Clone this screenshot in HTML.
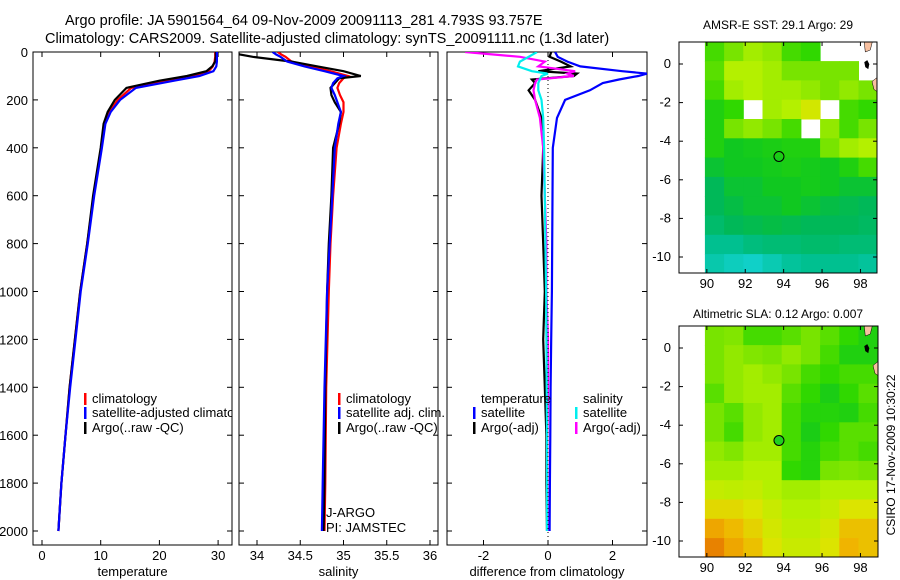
<!DOCTYPE html>
<html><head><meta charset="utf-8"><style>
html,body{margin:0;padding:0;background:#fff;}
svg{display:block;font-family:"Liberation Sans",sans-serif;}
text{font-size:13px;fill:#000;}
.ttl{font-size:14.5px;}
</style></head><body>
<svg id="fig" width="900" height="580" viewBox="0 0 900 580">
<defs>
<clipPath id="c1"><rect x="33" y="52" width="199" height="493"/></clipPath>
<clipPath id="c2"><rect x="239" y="52" width="199" height="493"/></clipPath>
<clipPath id="c3"><rect x="447" y="52" width="200" height="493"/></clipPath>
<clipPath id="cm1"><rect x="679" y="42" width="198" height="231"/></clipPath>
<clipPath id="cm2"><rect x="679" y="326" width="199" height="231"/></clipPath>
</defs>
<text class="ttl" x="65" y="25">Argo profile: JA 5901564_64 09-Nov-2009 20091113_281 4.793S 93.757E</text>
<text class="ttl" x="45" y="43">Climatology: CARS2009. Satellite-adjusted climatology: synTS_20091111.nc (1.3d later)</text>
<text x="778" y="29" text-anchor="middle" style="font-size:12px">AMSR-E SST: 29.1 Argo: 29</text>
<text x="778" y="318" text-anchor="middle" style="font-size:12px">Altimetric SLA: 0.12 Argo: 0.007</text>
<text transform="translate(895,455) rotate(-90)" text-anchor="middle" style="font-size:12px">CSIRO 17-Nov-2009 10:30:22</text>
<g id="g1"></g>
<g id="g2"></g>
<g id="g3"></g>
<g id="m1"></g>
<g id="m2"></g>
</svg>
<script>
const NS="http://www.w3.org/2000/svg";
// ---- profile data ----
const tDepth=[0,20,40,60,80,100,120,150,200,250,300,400,600,800,1000,1200,1400,1600,1800,2000];
const tempArgo=[29.6,29.6,29.5,29,28,24.7,20,14.4,12.4,11.2,10.5,10.0,8.7,7.7,6.5,5.6,4.7,4.0,3.3,2.8];
const tempClim=[29.5,29.5,29.4,29.1,28.4,25.5,21,15.2,12.9,11.5,10.7,10.1,8.8,7.7,6.5,5.6,4.7,4.0,3.3,2.8];
const tempSat=[29.8,29.8,29.8,29.7,29.2,26.8,22.5,16.0,13.3,11.7,10.8,10.2,8.9,7.8,6.6,5.7,4.8,4.0,3.3,2.8];
const sDepth=[0,10,20,40,60,80,100,110,130,150,180,210,250,300,400,600,800,1000,1400,1800,2000];
const salArgo=[33.75,33.8,33.95,34.4,34.7,35.0,35.2,34.95,34.9,34.85,34.86,34.9,34.97,34.95,34.88,34.86,34.83,34.81,34.79,34.78,34.77];
const salClim=[34.24,34.28,34.33,34.4,34.62,34.85,35.05,35.0,34.95,34.93,34.96,35.0,35.0,34.97,34.92,34.88,34.85,34.83,34.8,34.79,34.78];
const salSat=[34.18,34.22,34.27,34.35,34.55,34.78,35.0,34.93,34.88,34.86,34.9,34.93,34.97,34.94,34.9,34.87,34.84,34.81,34.78,34.76,34.75];
const dDepth=[0,20,40,60,80,90,100,115,130,160,200,275,400,600,800,1000,1200,1400,1600,1800,2000];
const dSatT=[0.22,0.3,0.6,1.0,2.3,3.07,2.8,2.2,1.7,1.3,0.53,0.28,0.15,0.14,0.13,0.12,0.1,0.08,0.07,0.06,0.05];
const dArgoT=[0.1,0.05,0.4,0.7,-0.3,0.9,0.8,-0.5,-0.4,-0.6,-0.4,-0.2,-0.15,-0.2,-0.15,-0.1,-0.15,-0.1,-0.05,-0.05,-0.03];
const dSatS=[-0.34,-0.6,-0.87,-0.93,-0.5,0.0,-0.2,-0.25,-0.3,-0.3,-0.2,-0.15,-0.12,-0.1,-0.08,-0.06,-0.05,-0.04,-0.03,-0.03,-0.03];
const dArgoS=[-2.57,-0.87,-0.1,-0.3,0.84,0.6,0.8,-0.34,-0.4,-0.45,-0.4,-0.25,-0.15,-0.1,-0.05,-0.05,0.0,0.0,-0.02,-0.02,-0.02];
const depthTicks=[0,200,400,600,800,1000,1200,1400,1600,1800,2000];
const tempTicks=[0,10,20,30];
const salTicks=[34,34.5,35,35.5,36];
const salTickLabels=["34","34.5","35","35.5","36"];
const diffTicks=[-2,0,2];
// ---- map data (rows lat 1..-11, cols lon 90..99) ----
const mapLons=[90,91,92,93,94,95,96,97,98];
const mapLats=[1,0,-1,-2,-3,-4,-5,-6,-7,-8,-9,-10];
const sstGrid=[
[0.5,0.55,0.6,0.58,0.5,0.48,null,null,null],
[0.52,0.62,0.62,0.6,0.55,0.55,0.55,0.55,null],
[0.5,0.6,0.62,0.6,0.6,0.58,0.55,0.58,0.55],
[0.45,0.48,null,0.6,0.62,0.68,null,0.5,0.48],
[0.45,0.55,0.58,0.55,0.5,null,0.58,0.5,0.55],
[0.45,0.42,0.43,0.44,0.45,0.45,0.55,0.6,0.62],
[0.4,0.42,0.42,0.43,0.44,0.43,0.42,0.45,0.5],
[0.36,0.4,0.4,0.42,0.42,0.43,0.42,0.4,0.4],
[0.36,0.38,0.4,0.4,0.42,0.4,0.38,0.37,0.36],
[0.34,0.36,0.37,0.38,0.37,0.36,0.36,0.36,0.35],
[0.3,0.3,0.32,0.33,0.33,0.34,0.34,0.33,0.33],
[0.25,0.22,0.2,0.24,0.28,0.3,0.3,0.3,0.28]];
const slaGrid=[
[0.55,0.56,0.5,0.5,0.52,0.55,0.52,0.48,0.45],
[0.55,0.58,0.56,0.55,0.58,0.55,0.5,0.45,0.45],
[0.55,0.58,0.6,0.58,0.55,0.5,0.48,0.5,0.5],
[0.52,0.58,0.6,0.6,0.52,0.48,0.44,0.48,0.52],
[0.55,0.52,0.58,0.6,0.5,0.46,0.46,0.45,0.5],
[0.55,0.5,0.58,0.6,0.5,0.44,0.48,0.52,0.52],
[0.58,0.56,0.6,0.6,0.5,0.46,0.5,0.52,0.5],
[0.6,0.6,0.62,0.62,0.48,0.46,0.55,0.56,0.55],
[0.65,0.64,0.65,0.62,0.6,0.6,0.62,0.62,0.62],
[0.72,0.72,0.7,0.66,0.62,0.62,0.65,0.7,0.7],
[0.8,0.77,0.73,0.68,0.64,0.64,0.68,0.76,0.76],
[0.85,0.8,0.76,0.7,0.66,0.66,0.7,0.78,0.76]];
const argoPos=[93.757,-4.793];
const mapLatTicks=[0,-2,-4,-6,-8,-10];
const mapLonTicks=[90,92,94,96,98];

function el(tag,attrs,parent,txt){const e=document.createElementNS(NS,tag);for(const k in attrs)e.setAttribute(k,attrs[k]);if(txt!==undefined)e.textContent=txt;parent.appendChild(e);return e;}
const yD=d=>52+d*(479/2000);
function panel(g,x0,x1,xs,ticks,labels,xlabel,clip,lines,name){
  el('rect',{x:x0,y:52,width:x1-x0,height:493,fill:'none',stroke:'#000','stroke-width':1},g);
  depthTicks.forEach(d=>{
    const y=yD(d);
    const t=el('line',{x1:x0,x2:x0+5,y1:y,y2:y,stroke:'#000'},g);
    
    el('line',{x1:x1,x2:x1-5,y1:y,y2:y,stroke:'#000'},g);
    if(name==='temp'){const l=el('text',{x:x0-5,y:y+5,'text-anchor':'end'},g,String(d));
      }
  });
  ticks.forEach((v,i)=>{const x=xs(v);
    el('line',{x1:x,x2:x,y1:545,y2:540,stroke:'#000'},g);
    el('line',{x1:x,x2:x,y1:52,y2:57,stroke:'#000'},g);
    const l=el('text',{x:x,y:560,'text-anchor':'middle'},g,labels[i]);
    
  });
  const xl=el('text',{x:(x0+x1)/2,y:576,'text-anchor':'middle','font-size':'12'},g,xlabel);
  
  const cg=el('g',{'clip-path':'url(#'+clip+')'},g);
  lines.forEach(L=>{
    const pts=L.v.map((v,i)=>xs(v).toFixed(1)+','+yD(L.d[i]).toFixed(1)).join(' ');
    const p=el('polyline',{points:pts,fill:'none',stroke:L.c,'stroke-width':2.2,'stroke-linejoin':'miter'},cg);
    
  });
  return cg;
}
const xT=v=>42+v*5.87, xS=v=>257+(v-34)*86.5, xDf=v=>548+v*32.25;
const g1=document.getElementById('g1'),g2=document.getElementById('g2'),g3=document.getElementById('g3');
const cg1=panel(g1,33,232,xT,tempTicks,tempTicks.map(String),'temperature','c1',[
 {d:tDepth,v:tempClim,c:'#f00',n:'temp-climatology-line'},
 {d:tDepth,v:tempArgo,c:'#000',n:'temp-argo-line'},
 {d:tDepth,v:tempSat,c:'#00f',n:'temp-satellite-line'}],'temp');
panel(g2,239,438,xS,salTicks,salTickLabels,'salinity','c2',[
 {d:sDepth,v:salClim,c:'#f00',n:'sal-climatology-line'},
 {d:sDepth,v:salArgo,c:'#000',n:'sal-argo-line'},
 {d:sDepth,v:salSat,c:'#00f',n:'sal-satellite-line'}],'sal');
const cg3=panel(g3,447,647,xDf,diffTicks,diffTicks.map(String),'difference from climatology','c3',[
 {d:dDepth,v:dArgoT,c:'#000',n:'diff-temp-argo-line'},
 {d:dDepth,v:dArgoS,c:'#f0f',n:'diff-sal-argo-line'},
 {d:dDepth,v:dSatT,c:'#00f',n:'diff-temp-satellite-line'},
 {d:dDepth,v:dSatS,c:'#0ee',n:'diff-sal-satellite-line'}],'diff');
el('line',{x1:xDf(0),x2:xDf(0),y1:52,y2:545,stroke:'#000','stroke-dasharray':'1,3'},cg3);
function legend(g,x,y,c,t,clip){const gg=el('g',clip?{'clip-path':'url(#'+clip+')'}:{},g);
  
  if(c)el('rect',{x:x,y:y-10,width:2.5,height:12,fill:c},gg);
  el('text',{x:x+8,y:y,'font-size':'12.5'},gg,t);}
legend(g1,84,403,'#f00','climatology');
legend(g1,84,417,'#00f','satellite-adjusted climatology','c1');
legend(g1,84,432,'#000','Argo(..raw -QC)');
legend(g2,338,403,'#f00','climatology');
legend(g2,338,417,'#00f','satellite adj. clim.');
legend(g2,338,432,'#000','Argo(..raw -QC)');
legend(g2,318,517,null,'J-ARGO');
legend(g2,318,532,null,'PI: JAMSTEC');
legend(g3,473,403,null,'temperature');
legend(g3,473,417,'#00f','satellite');
legend(g3,473,432,'#000','Argo(-adj)');
legend(g3,575,403,null,'salinity');
legend(g3,575,417,'#0ee','satellite');
legend(g3,575,432,'#f0f','Argo(-adj)');

// ---- maps ----
const cmapStops=[[0.2,[16,208,200]],[0.3,[0,192,144]],[0.36,[0,184,88]],[0.42,[16,200,32]],[0.48,[48,216,0]],[0.55,[120,228,0]],[0.62,[180,240,0]],[0.7,[220,228,0]],[0.78,[240,180,0]],[0.85,[232,130,0]],[1,[176,0,0]]];
function cmap(v){for(let i=1;i<cmapStops.length;i++){if(v<=cmapStops[i][0]){const a=cmapStops[i-1],b=cmapStops[i];const t=Math.max(0,(v-a[0])/(b[0]-a[0]));
  return 'rgb('+a[1].map((c,k)=>Math.round(c+(b[1][k]-c)*t)).join(',')+')';}}return 'rgb(176,0,0)';}
function map(g,x0,x1,y0,y1,lat0y,clip,grid,marker){
  const lx=v=>x0+(v-88.55)*19.2, ly=v=>lat0y-v*19.3;
  const cg=el('g',{'clip-path':'url(#'+clip+')'},g);
  grid.forEach((row,r)=>row.forEach((v,c)=>{
    if(v===null)return;
    const x=lx(mapLons[c]-0.1),y=ly(mapLats[r]+0.15);
    const rc=el('rect',{x:x.toFixed(1),y:y.toFixed(1),width:19.7,height:19.8,fill:cmap(v)},cg);
    
  }));
  el('path',{d:`M${lx(98.2)},${y0} l8,0 l-2,8 l-5,2 z`,fill:'#f8c0a0',stroke:'#000','stroke-width':0.5},cg);
  el('path',{d:`M${x1},${ly(-0.7)} l-5,4 l2,8 l3,2 z`,fill:'#f8c0a0',stroke:'#000','stroke-width':0.5},cg);
  el('path',{d:`M${lx(98.2)},${ly(0.1)} l3,-2 l2,4 l-1,5 l-3,-2 z`,fill:'#000'},cg);
  const m=el('circle',{cx:lx(argoPos[0]),cy:ly(argoPos[1]),r:5,fill:marker,stroke:'#000','stroke-width':1},g);
  
  el('rect',{x:x0,y:y0,width:x1-x0,height:y1-y0,fill:'none',stroke:'#000'},g);
  mapLatTicks.forEach(v=>{const y=ly(v);
    el('line',{x1:x0,x2:x0+4,y1:y,y2:y,stroke:'#000'},g);el('line',{x1:x1,x2:x1-4,y1:y,y2:y,stroke:'#000'},g);
    const t=el('text',{x:x0-8,y:y+4,'text-anchor':'end','font-size':'12'},g,String(v));
    });
  mapLonTicks.forEach(v=>{const x=lx(v);
    el('line',{x1:x,x2:x,y1:y1,y2:y1-4,stroke:'#000'},g);el('line',{x1:x,x2:x,y1:y0,y2:y0+4,stroke:'#000'},g);
    const t=el('text',{x:x,y:y1+15,'text-anchor':'middle','font-size':'12'},g,String(v));
    });
}
map(document.getElementById('m1'),679,877,42,273,64,'cm1',sstGrid,'none');
map(document.getElementById('m2'),679,878,326,557,348,'cm2',slaGrid,'#20d020');
</script>
</body></html>
